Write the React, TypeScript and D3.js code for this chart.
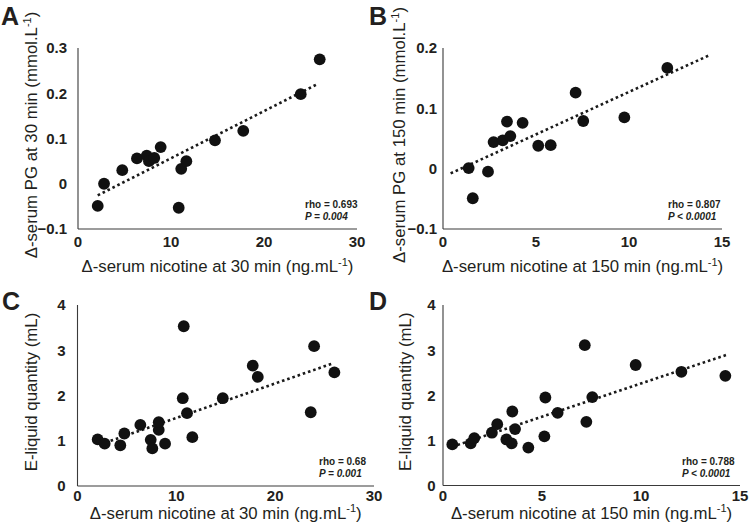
import React from "react";
import * as d3 from "d3";

// ---------- DATA ----------
// Panel A: Δ-serum nicotine at 30 min vs Δ-serum PG at 30 min
const panelA_x = [2.12, 2.8, 4.76, 6.34, 7.39, 7.63, 8.2, 8.89, 10.83, 11.1, 11.65, 14.73, 17.77, 23.95, 25.99];
const panelA_y = [-0.049, 0.0, 0.030, 0.056, 0.062, 0.050, 0.057, 0.081, -0.053, 0.033, 0.050, 0.096, 0.117, 0.198, 0.275];
const trendA_x = [2.12, 25.84];
const trendA_y = [-0.0257, 0.2213];

// Panel B: Δ-serum nicotine at 150 min vs Δ-serum PG at 150 min
const panelB_x = [1.38, 1.6, 2.42, 2.72, 3.21, 3.44, 3.62, 4.28, 5.12, 5.79, 7.13, 7.54, 9.75, 12.06];
const panelB_y = [0.001, -0.049, -0.005, 0.044, 0.047, 0.078, 0.054, 0.076, 0.038, 0.039, 0.126, 0.079, 0.085, 0.167];
const trendB_x = [0.41, 14.32];
const trendB_y = [-0.0078, 0.188];

// Panel C: Δ-serum nicotine at 30 min vs E-liquid quantity
const panelC_x = [2.04, 2.75, 4.33, 4.74, 6.36, 7.41, 7.57, 8.22, 8.22, 8.86, 10.65, 10.75, 11.08, 11.62, 14.7, 17.73, 18.24, 23.6, 23.94, 25.99];
const panelC_y = [1.03, 0.935, 0.9, 1.16, 1.35, 1.02, 0.83, 1.24, 1.41, 0.935, 1.94, 3.53, 1.61, 1.08, 1.94, 2.66, 2.41, 1.63, 3.09, 2.51];
const trendC_x = [2.3, 25.7];
const trendC_y = [0.918, 2.70];

// Panel D: Δ-serum nicotine at 150 min vs E-liquid quantity
const panelD_x = [0.47, 1.4, 1.58, 2.47, 2.74, 3.2, 3.47, 3.5, 3.64, 4.31, 5.12, 5.17, 5.79, 7.16, 7.24, 7.54, 9.73, 12.04, 14.26];
const panelD_y = [0.91, 0.935, 1.05, 1.17, 1.36, 1.02, 0.935, 1.64, 1.25, 0.84, 1.09, 1.95, 1.61, 3.11, 1.41, 1.96, 2.67, 2.52, 2.43];
const trendD_x = [0.47, 14.29];
const trendD_y = [0.86, 2.89];

const xTicks30 = [0, 10, 20, 30];
const xTicks15 = [0, 5, 10, 15];
const yTicksA = [-0.1, 0, 0.1, 0.2, 0.3];
const yTicksB = [-0.1, 0, 0.1, 0.2];
const yTicksCD = [0, 1, 2, 3, 4];

const statsRho = ["rho = 0.693", "rho = 0.807", "rho = 0.68", "rho = 0.788"];
const statsP = ["P = 0.004", "P < 0.0001", "P = 0.001", "P < 0.0001"];
const panelLetters = ["A", "B", "C", "D"];
const xTitleMain = ["Δ-serum nicotine at 30 min (ng.mL", "Δ-serum nicotine at 150 min (ng.mL", "Δ-serum nicotine at 30 min (ng.mL", "Δ-serum nicotine at 150 min (ng.mL"];
const yTitleMain = ["Δ-serum PG at 30 min (mmol.L", "Δ-serum PG at 150 min (mmol.L", "E-liquid quantity (mL)", "E-liquid quantity (mL)"];
const yTitleSup = [true, true, false, false];

// ---------- LAYOUT ----------
const FONT = "'Liberation Sans', Arial, Helvetica, sans-serif";
const TEXT = "#231f20";
const AXIS = "#3a3a3a";
const TITLE_SIZE = 16.8;
const TICK_SIZE = 15;

type Panel = {
  xs: number[]; ys: number[]; tx: number[]; ty: number[];
  xDomain: [number, number]; yDomain: [number, number];
  xRange: [number, number]; yRange: [number, number];
  xTicks: number[]; yTicks: number[];
  letterPos: [number, number]; yTitleX: number; xTitleY: number; xTickY: number;
  statsX: number; yLabelGap: number;
};

const panels: Panel[] = [
  { xs: panelA_x, ys: panelA_y, tx: trendA_x, ty: trendA_y, xDomain: [0, 30], yDomain: [-0.1, 0.3],
    xRange: [78, 357], yRange: [229, 48], xTicks: xTicks30, yTicks: yTicksA,
    letterPos: [1, 25], yTitleX: 37, xTitleY: 272, xTickY: 247, statsX: 305, yLabelGap: 11 },
  { xs: panelB_x, ys: panelB_y, tx: trendB_x, ty: trendB_y, xDomain: [0, 15], yDomain: [-0.1, 0.2],
    xRange: [443, 722], yRange: [229, 48], xTicks: xTicks15, yTicks: yTicksB,
    letterPos: [369, 25], yTitleX: 405, xTitleY: 272, xTickY: 247, statsX: 668, yLabelGap: 6 },
  { xs: panelC_x, ys: panelC_y, tx: trendC_x, ty: trendC_y, xDomain: [0, 30], yDomain: [0, 4],
    xRange: [77.5, 374], yRange: [486, 305], xTicks: xTicks30, yTicks: yTicksCD,
    letterPos: [2, 310], yTitleX: 37, xTitleY: 518.5, xTickY: 501, statsX: 319, yLabelGap: 12 },
  { xs: panelD_x, ys: panelD_y, tx: trendD_x, ty: trendD_y, xDomain: [0, 15], yDomain: [0, 4],
    xRange: [443, 740], yRange: [485.5, 305], xTicks: xTicks15, yTicks: yTicksCD,
    letterPos: [369, 310], yTitleX: 411, xTitleY: 518.5, xTickY: 501, statsX: 682, yLabelGap: 7.5 },
];

const fmt = (v: number) => (Math.abs(v) < 1e-9 ? "0" : d3.format("")(+v.toFixed(2)));

function PanelView({ p, i }: { p: Panel; i: number }) {
  const x = d3.scaleLinear().domain(p.xDomain).range(p.xRange);
  const y = d3.scaleLinear().domain(p.yDomain).range(p.yRange);
  const line = d3.line<[number, number]>().x((d) => x(d[0])).y((d) => y(d[1]));
  const trendPts: [number, number][] = p.tx.map((v, k) => [v, p.ty[k]]);
  const [x0, x1] = p.xRange;
  const [yb, yt] = p.yRange;
  const xc = (x0 + x1) / 2;
  const yc = (yb + yt) / 2 - 3.5;
  return (
    <g>
      <text x={p.letterPos[0]} y={p.letterPos[1]} fontFamily={FONT} fontWeight="bold" fontSize={25} fill={TEXT}>
        {panelLetters[i]}
      </text>
      {/* axes */}
      <line x1={x0} x2={x0} y1={yt} y2={yb} stroke={AXIS} strokeWidth={1.1} />
      <line x1={x0} x2={x1} y1={yb} y2={yb} stroke={AXIS} strokeWidth={1.1} />
      {/* y tick labels */}
      {p.yTicks.map((t) => (
        <text key={"y" + t} x={x0 - p.yLabelGap} y={y(t)} dy="0.36em" textAnchor="end" fontFamily={FONT}
          fontWeight="bold" fontSize={TICK_SIZE} fill={TEXT}>{fmt(t)}</text>
      ))}
      {/* x tick labels */}
      {p.xTicks.map((t) => (
        <text key={"x" + t} x={x(t)} y={p.xTickY} textAnchor="middle" fontFamily={FONT}
          fontWeight="bold" fontSize={TICK_SIZE} fill={TEXT}>{fmt(t)}</text>
      ))}
      {/* trend */}
      <path d={line(trendPts) || ""} fill="none" stroke="#1a1a1a" strokeWidth={2.6}
        strokeDasharray="2.6 2.9" />
      {/* points */}
      {p.xs.map((v, k) => (
        <circle key={k} cx={x(v)} cy={y(p.ys[k])} r={5.9} fill="#111" />
      ))}
      {/* stats */}
      <text x={p.statsX} y={yb - 21} fontFamily={FONT} fontWeight="bold" fontSize={10} fill={TEXT}>
        {statsRho[i]}
      </text>
      <text x={p.statsX} y={yb - 9} fontFamily={FONT} fontWeight="bold" fontStyle="italic" fontSize={10} fill={TEXT}>
        {statsP[i]}
      </text>
      {/* x title */}
      <text x={xc} y={p.xTitleY} textAnchor="middle" fontFamily={FONT} fontSize={TITLE_SIZE} fill={TEXT}>
        {xTitleMain[i]}
        <tspan fontSize={11} dy={-6.5}>-1</tspan>
        <tspan dy={6.5}>)</tspan>
      </text>
      {/* y title */}
      <text transform={`translate(${p.yTitleX},${yc}) rotate(-90)`} textAnchor="middle" fontFamily={FONT}
        fontSize={TITLE_SIZE} fill={TEXT}>
        {yTitleMain[i]}
        {yTitleSup[i] ? (
          <>
            <tspan fontSize={11} dy={-6.5}>-1</tspan>
            <tspan dy={6.5}>)</tspan>
          </>
        ) : null}
      </text>
    </g>
  );
}

export default function App() {
  return (
    <svg width={749} height={526} style={{ position: "absolute", left: 0, top: 0, background: "#fff" }}>
      <rect width={749} height={526} fill="#fff" />
      {panels.map((p, i) => (
        <PanelView key={i} p={p} i={i} />
      ))}
    </svg>
  );
}
